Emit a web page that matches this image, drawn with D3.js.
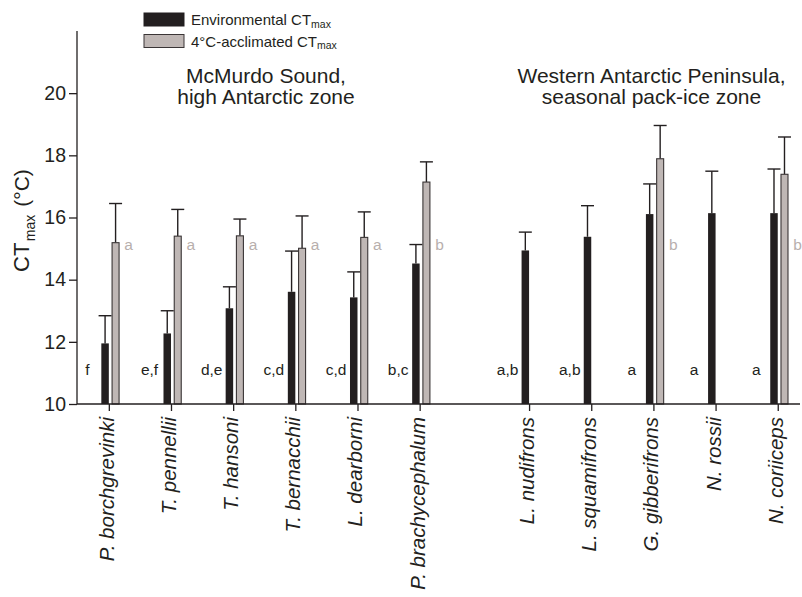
<!DOCTYPE html>
<html>
<head>
<meta charset="utf-8">
<script src="https://cdn.jsdelivr.net/npm/d3@7"></script>
<style>
  html, body { margin: 0; padding: 0; background: #fff; }
  svg { display: block; font-family: "Liberation Sans", Arial, sans-serif; }
</style>
</head>
<body>
<svg id="chart" width="802" height="597"></svg>
<script>
// ---- data ----
const species = ["P. borchgrevinki", "T. pennellii", "T. hansoni", "T. bernacchii", "L. dearborni",
  "P. brachycephalum", "L. nudifrons", "L. squamifrons", "G. gibberifrons", "N. rossii", "N. coriiceps"];
const zone = [0, 0, 0, 0, 0, 0, 1, 1, 1, 1, 1];
const zoneTitles = [["McMurdo Sound,", "high Antarctic zone"], ["Western Antarctic Peninsula,", "seasonal pack-ice zone"]];
const envMean = [11.95, 12.27, 13.08, 13.61, 13.43, 14.52, 14.94, 15.38, 16.11, 16.14, 16.14];
const envErr  = [0.89, 0.73, 0.69, 1.31, 0.82, 0.61, 0.59, 1.00, 0.97, 1.35, 1.42];
const accMean = [15.19, 15.40, 15.41, 15.01, 15.36, 17.14, null, null, 17.89, null, 17.39];
const accErr  = [1.26, 0.86, 0.54, 1.04, 0.82, 0.65, null, null, 1.07, null, 1.20];
const envLetters = ["f", "e,f", "d,e", "c,d", "c,d", "b,c", "a,b", "a,b", "a", "a", "a"];
const accLetters = ["a", "a", "a", "a", "a", "b", "", "", "b", "", "b"];
const yTicks = [10, 12, 14, 16, 18, 20];
const seriesNames = ["Environmental CT", "4°C-acclimated CT"];

// ---- layout ----
const ink = "#231f20";
const grayFill = "#bfb7b5";
const grayLetter = "#b8afad";
const pLeft = 77, pRight = 800, pTop = 31, pBottom = 404;
const zoneGap = 0.76;

const svg = d3.select("#chart");
const slot = i => i + (zone[i] === 1 ? zoneGap : 0);
const x = d3.scaleLinear().domain([-0.52, 10 + zoneGap + 0.35]).range([pLeft, pRight]);
const y = d3.scaleLinear().domain([10, 22]).range([pBottom, pTop]);

const data = species.map((s, i) => ({
  name: s, cx: x(slot(i)),
  env: envMean[i], envE: envErr[i], acc: accMean[i], accE: accErr[i],
  envL: envLetters[i], accL: accLetters[i]
}));

// y axis
const yAxis = d3.axisLeft(y).tickValues(yTicks).tickSize(8).tickPadding(3);
const gy = svg.append("g").attr("transform", `translate(${pLeft},0)`).call(yAxis);
gy.select(".domain").remove();
gy.selectAll(".tick line").attr("stroke", ink).attr("stroke-width", 1.3);
gy.selectAll(".tick text").attr("fill", ink).style("font-size", "19.5px")
  .style("font-family", '"Liberation Sans", Arial, sans-serif');
svg.append("line").attr("x1", pLeft).attr("x2", pLeft).attr("y1", pTop).attr("y2", pBottom)
  .attr("stroke", ink).attr("stroke-width", 1.3);

// error bars (drawn beneath bars)
const capW = 13;
function errBar(cx, v, e) {
  const g = svg.append("g").attr("stroke", ink).attr("stroke-width", 1.4);
  g.append("line").attr("x1", cx).attr("x2", cx).attr("y1", y(v)).attr("y2", y(v + e));
  g.append("line").attr("x1", cx - capW / 2).attr("x2", cx + capW / 2).attr("y1", y(v + e)).attr("y2", y(v + e));
}
data.forEach(d => {
  errBar(d.cx - 4.25, d.env, d.envE);
  if (d.acc != null) errBar(d.cx + 6.25, d.acc, d.accE);
});

// bars
svg.selectAll("rect.env").data(data).enter().append("rect").attr("class", "env")
  .attr("x", d => d.cx - 8).attr("width", 7.5)
  .attr("y", d => y(d.env)).attr("height", d => y(10) - y(d.env))
  .attr("fill", ink);
svg.selectAll("rect.acc").data(data.filter(d => d.acc != null)).enter().append("rect").attr("class", "acc")
  .attr("x", d => d.cx + 2.75).attr("width", 7)
  .attr("y", d => y(d.acc)).attr("height", d => y(10) - y(d.acc))
  .attr("fill", grayFill).attr("stroke", "#3a3536").attr("stroke-width", 1.1);

// x axis
svg.append("line").attr("x1", pLeft).attr("x2", pRight).attr("y1", pBottom).attr("y2", pBottom)
  .attr("stroke", ink).attr("stroke-width", 1.3);
svg.selectAll("line.xt").data(data).enter().append("line").attr("class", "xt")
  .attr("x1", d => d.cx).attr("x2", d => d.cx).attr("y1", pBottom).attr("y2", pBottom + 7)
  .attr("stroke", ink).attr("stroke-width", 1.3);
svg.selectAll("text.xl").data(data).enter().append("text").attr("class", "xl")
  .attr("transform", d => `translate(${d.cx + 4.5},${pBottom + 13}) rotate(-90)`)
  .attr("text-anchor", "end").attr("fill", ink)
  .style("font-size", "20.5px").style("font-style", "italic")
  .text(d => d.name);

// significance letters
svg.selectAll("text.el").data(data).enter().append("text").attr("class", "el")
  .attr("x", d => d.cx - 22).attr("y", pBottom - 29)
  .attr("text-anchor", "middle").attr("fill", ink).style("font-size", "15.5px")
  .text(d => d.envL);
svg.selectAll("text.al").data(data.filter(d => d.accL)).enter().append("text").attr("class", "al")
  .attr("x", d => d.cx + 15).attr("y", 250)
  .attr("fill", grayLetter).style("font-size", "15.5px")
  .text(d => d.accL);

// zone titles
[0, 1].forEach(z => {
  const cx = z === 0 ? 266 : 651.5;
  zoneTitles[z].forEach((line, k) => {
    svg.append("text").attr("x", cx).attr("y", 83 + k * 21)
      .attr("text-anchor", "middle").attr("fill", ink).style("font-size", "21px")
      .text(line);
  });
});

// legend
const lg = svg.append("g");
[0, 1].forEach(k => {
  const ly = 13 + k * 21.5;
  lg.append("rect").attr("x", 144).attr("y", ly).attr("width", 40).attr("height", 13)
    .attr("fill", k === 0 ? ink : grayFill).attr("stroke", k === 0 ? ink : "#3a3536").attr("stroke-width", 1);
  const t = lg.append("text").attr("x", 191).attr("y", ly + 12).attr("fill", ink).style("font-size", "15px");
  t.append("tspan").text(seriesNames[k]);
  t.append("tspan").attr("dy", 2.5).style("font-size", "10.5px").text("max");
});

// y label
const yl = svg.append("text").attr("transform", "translate(29,272) rotate(-90)")
  .attr("text-anchor", "start").attr("fill", ink).style("font-size", "22px");
yl.append("tspan").text("CT");
yl.append("tspan").attr("dx", 1.5).attr("dy", 6).style("font-size", "14px").text("max");
yl.append("tspan").attr("dx", 8).attr("dy", -6).style("font-size", "21px").text("(°C)");
</script>
</body>
</html>
